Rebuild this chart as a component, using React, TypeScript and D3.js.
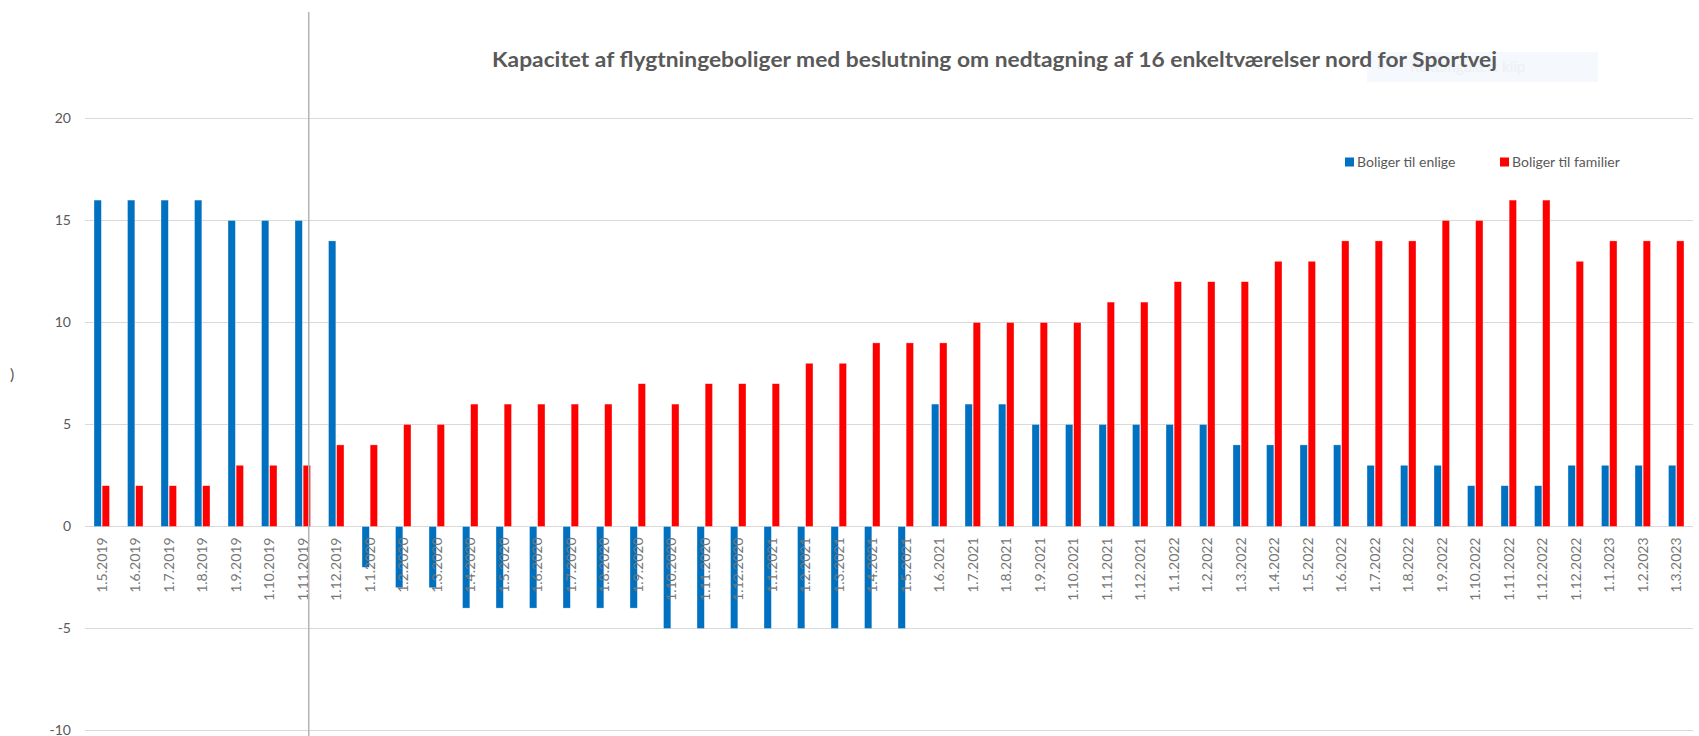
import React, { useEffect, useRef } from 'react';
import * as d3 from 'd3';

const categories = [
  '1.5.2019', '1.6.2019', '1.7.2019', '1.8.2019', '1.9.2019', '1.10.2019', '1.11.2019', '1.12.2019',
  '1.1.2020', '1.2.2020', '1.3.2020', '1.4.2020', '1.5.2020', '1.6.2020', '1.7.2020', '1.8.2020',
  '1.9.2020', '1.10.2020', '1.11.2020', '1.12.2020',
  '1.1.2021', '1.2.2021', '1.3.2021', '1.4.2021', '1.5.2021', '1.6.2021', '1.7.2021', '1.8.2021',
  '1.9.2021', '1.10.2021', '1.11.2021', '1.12.2021',
  '1.1.2022', '1.2.2022', '1.3.2022', '1.4.2022', '1.5.2022', '1.6.2022', '1.7.2022', '1.8.2022',
  '1.9.2022', '1.10.2022', '1.11.2022', '1.12.2022', '1.12.2022',
  '1.1.2023', '1.2.2023', '1.3.2023',
];

const enlige = [
  16, 16, 16, 16, 15, 15, 15, 14,
  -2, -3, -3, -4, -4, -4, -4, -4, -4, -5, -5, -5,
  -5, -5, -5, -5, -5, 6, 6, 6, 5, 5, 5, 5,
  5, 5, 4, 4, 4, 4, 3, 3, 3, 2, 2, 2, 3,
  3, 3, 3,
];

const familier = [
  2, 2, 2, 2, 3, 3, 3, 4,
  4, 5, 5, 6, 6, 6, 6, 6, 7, 6, 7, 7,
  7, 8, 8, 9, 9, 9, 10, 10, 10, 10, 11, 11,
  12, 12, 12, 13, 13, 14, 14, 14, 15, 15, 16, 16, 13,
  14, 14, 14,
];

const seriesNames = ['Boliger til enlige', 'Boliger til familier'];
const seriesColors = ['#0070C0', '#FF0000'];
const yTicks = [20, 15, 10, 5, 0, -5, -10];

const title =
  'Kapacitet af flygtningeboliger med beslutning om nedtagning af 16 enkeltværelser nord for Sportvej';

const FONT = 'Lato, "Open Sans", sans-serif';

export default function App() {
  const ref = useRef<SVGSVGElement | null>(null);

  useEffect(() => {
    document.body.style.margin = '0';
    if (!ref.current) return;
    const width = 1699;
    const height = 736;
    const margin = { top: 118.5, right: 6, bottom: 5.5, left: 85 };

    const svg = d3.select(ref.current);
    svg.selectAll('*').remove();

    const x = d3
      .scaleBand<number>()
      .domain(d3.range(categories.length))
      .range([margin.left, width - margin.right])
      .paddingInner(0.49)
      .paddingOuter(0.245);

    const xs = d3.scaleBand<number>().domain([0, 1]).range([0, x.bandwidth()]).padding(0.1);

    const y = d3
      .scaleLinear()
      .domain([-10, 20])
      .range([height - margin.bottom, margin.top]);

    // faint overlay box (sits behind the title)
    svg
      .append('rect')
      .attr('x', 1367)
      .attr('y', 52)
      .attr('width', 231)
      .attr('height', 30)
      .attr('fill', '#f5f8fd');
    svg
      .append('rect')
      .attr('x', 1378)
      .attr('y', 63)
      .attr('width', 6)
      .attr('height', 6)
      .attr('fill', '#eef0f4');
    svg
      .append('text')
      .attr('x', 1410)
      .attr('y', 67)
      .attr('dy', '0.35em')
      .attr('font-family', FONT)
      .attr('font-size', 15)
      .attr('fill', '#edf0f4')
      .text('Rektangulært klip');

    // gridlines
    svg
      .append('g')
      .selectAll('line')
      .data(yTicks)
      .join('line')
      .attr('x1', margin.left)
      .attr('x2', width - margin.right)
      .attr('y1', (d) => y(d))
      .attr('y2', (d) => y(d))
      .attr('stroke', '#d9d9d9')
      .attr('stroke-width', 1.2);

    // y labels
    svg
      .append('g')
      .selectAll('text')
      .data(yTicks)
      .join('text')
      .attr('x', 71)
      .attr('y', (d) => y(d))
      .attr('dy', '0.35em')
      .attr('text-anchor', 'end')
      .attr('font-family', FONT)
      .attr('font-size', 14)
      .attr('fill', '#595959')
      .text((d) => d);

    // cropped axis title remnant
    svg
      .append('text')
      .attr('x', 10)
      .attr('y', 380)
      .attr('font-family', FONT)
      .attr('font-size', 16)
      .attr('fill', '#595959')
      .text(')');

    // bars
    const groups = svg
      .append('g')
      .selectAll('g')
      .data(categories.map((c, i) => i))
      .join('g')
      .attr('transform', (i) => `translate(${x(i)},0)`);

    groups
      .selectAll('rect')
      .data((i) => [enlige[i], familier[i]].map((v, s) => ({ v, s })))
      .join('rect')
      .attr('x', (d) => xs(d.s) as number)
      .attr('width', xs.bandwidth())
      .attr('y', (d) => y(Math.max(0, d.v)))
      .attr('height', (d) => Math.abs(y(d.v) - y(0)))
      .attr('fill', (d) => seriesColors[d.s])
      .attr('stroke', '#ffffff')
      .attr('stroke-opacity', 0.5)
      .attr('stroke-width', 0.6);

    // x labels
    svg
      .append('g')
      .selectAll('text')
      .data(categories.map((c, i) => i))
      .join('text')
      .attr(
        'transform',
        (i) => `translate(${(x(i) as number) + x.bandwidth() / 2},${y(0) + 11}) rotate(-90)`
      )
      .attr('dy', '0.35em')
      .attr('text-anchor', 'end')
      .attr('font-family', FONT)
      .attr('font-size', 14)
      .attr('fill', '#767676')
      .text((i) => categories[i]);

    // vertical marker line
    const vx = (x(6) as number) + x.bandwidth() / 2 + 6;
    svg
      .append('line')
      .attr('x1', vx)
      .attr('x2', vx)
      .attr('y1', 12)
      .attr('y2', height)
      .attr('stroke', '#b4b4b4')
      .attr('stroke-width', 1.5);

    // title
    svg
      .append('text')
      .attr('x', 492)
      .attr('y', 60)
      .attr('dy', '0.35em')
      .attr('font-family', FONT)
      .attr('font-weight', 'bold')
      .attr('font-size', 20)
      .attr('textLength', 1005)
      .attr('lengthAdjust', 'spacingAndGlyphs')
      .attr('fill', '#595959')
      .text(title);

    // legend
    const legend = svg
      .append('g')
      .selectAll('g')
      .data(seriesNames.map((n, s) => s))
      .join('g')
      .attr('transform', (s) => `translate(${s === 0 ? 1345 : 1500},162)`);
    legend
      .append('rect')
      .attr('x', 0)
      .attr('y', -4.5)
      .attr('width', 9)
      .attr('height', 9)
      .attr('fill', (s) => seriesColors[s]);
    legend
      .append('text')
      .attr('x', 12)
      .attr('dy', '0.35em')
      .attr('font-family', FONT)
      .attr('font-size', 14)
      .attr('fill', '#595959')
      .text((s) => seriesNames[s]);
  }, []);

  return <svg ref={ref} width={1699} height={736} style={{ display: 'block', background: '#fff' }} />;
}
